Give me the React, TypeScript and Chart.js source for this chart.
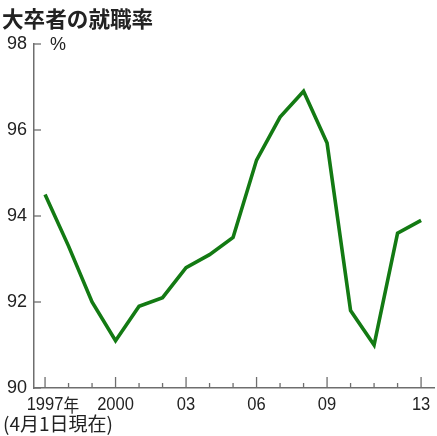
import { useEffect, useRef } from "react";
import { Chart, registerables } from "chart.js";

Chart.register(...registerables);

// 大卒者の就職率 (4月1日現在)
const years = [1997, 1998, 1999, 2000, 2001, 2002, 2003, 2004, 2005, 2006, 2007, 2008, 2009, 2010, 2011, 2012, 2013];
const rates = [94.5, 93.3, 92.0, 91.1, 91.9, 92.1, 92.8, 93.1, 93.5, 95.3, 96.3, 96.9, 95.7, 91.8, 91.0, 93.6, 93.9];

const labeledYears = [1997, 2000, 2003, 2006, 2009, 2013];
const labelTexts = ["1997", "2000", "03", "06", "09", "13"];
const yTicks = [90, 92, 94, 96, 98];

const lineColor = "#137a13";
const axisColor = "#6e6e6e";
const textColor = "#222";

const decorPlugin = {
  id: "decor",
  afterDraw(chart: Chart) {
    const ctx = chart.ctx;
    const xs = chart.scales.x;
    const ys = chart.scales.y;
    const area = chart.chartArea;
    ctx.save();
    ctx.strokeStyle = axisColor;
    ctx.lineWidth = 1.3;
    // x tick marks pointing up
    years.forEach((yr) => {
      const px = xs.getPixelForValue(yr);
      const len = labeledYears.includes(yr) ? 11 : 5;
      ctx.beginPath();
      ctx.moveTo(px, area.bottom);
      ctx.lineTo(px, area.bottom - len);
      ctx.stroke();
    });
    // y tick marks pointing right
    yTicks.forEach((v) => {
      const py = ys.getPixelForValue(v);
      ctx.beginPath();
      ctx.moveTo(area.left, py);
      ctx.lineTo(area.left + 7, py);
      ctx.stroke();
    });

    ctx.fillStyle = textColor;
    ctx.textBaseline = "middle";

    // x labels, slightly condensed
    const sx = 0.87;
    ctx.font = "19px 'Liberation Sans', Arial, sans-serif";
    labeledYears.forEach((yr, i) => {
      const px = xs.getPixelForValue(yr);
      const w = ctx.measureText(labelTexts[i]).width * sx;
      ctx.save();
      ctx.translate(px - w / 2, area.bottom + 17);
      ctx.scale(sx, 1);
      ctx.textAlign = "left";
      ctx.fillText(labelTexts[i], 0, 0);
      if (i === 0) {
        ctx.font = "18px 'Noto Sans CJK JP', sans-serif";
        ctx.fillText("年", w / sx, 0);
      }
      ctx.restore();
    });

    ctx.textAlign = "left";
    // unit
    ctx.font = "18px 'Liberation Sans', Arial, sans-serif";
    ctx.fillText("%", area.left + 16, ys.getPixelForValue(98) + 1);
    // title
    ctx.font = "bold 21.6px 'Noto Sans CJK JP', sans-serif";
    ctx.fillText("大卒者の就職率", 2, 19);
    // footnote
    ctx.font = "19px 'Noto Sans CJK JP', sans-serif";
    ctx.fillText("(4月1日現在)", 3, 424);
    ctx.restore();
  },
};

const App = () => {
  const canvasRef = useRef<HTMLCanvasElement>(null);
  const chartRef = useRef<Chart | null>(null);

  useEffect(() => {
    if (!canvasRef.current) return;
    if (chartRef.current) chartRef.current.destroy();

    chartRef.current = new Chart(canvasRef.current, {
      type: "line",
      data: {
        datasets: [
          {
            data: years.map((yr, i) => ({ x: yr, y: rates[i] })),
            borderColor: lineColor,
            borderWidth: 3.6,
            borderJoinStyle: "miter",
            pointRadius: 0,
            tension: 0,
          },
        ],
      },
      options: {
        responsive: false,
        animation: false,
        layout: { padding: { top: 44, right: 3, left: 0, bottom: 0 } },
        plugins: {
          legend: { display: false },
          tooltip: { enabled: false },
        },
        scales: {
          x: {
            type: "linear",
            min: 1996.53,
            max: 2013.55,
            grid: { display: false, drawTicks: false },
            border: { display: true, color: axisColor, width: 1.5 },
            afterBuildTicks: (scale: any) => {
              scale.ticks = years.map((v) => ({ value: v }));
            },
            afterFit: (scale: any) => {
              scale.height = 48;
            },
            ticks: { display: false },
          },
          y: {
            min: 90,
            max: 98,
            grid: { display: false, drawTicks: false },
            border: { display: true, color: axisColor, width: 1.5 },
            afterBuildTicks: (scale: any) => {
              scale.ticks = yTicks.map((v) => ({ value: v }));
            },
            afterFit: (scale: any) => {
              scale.width = 34;
            },
            ticks: {
              padding: 7,
              color: textColor,
              font: { family: "'Liberation Sans', Arial, sans-serif", size: 18 },
            },
          },
        },
      },
      plugins: [decorPlugin],
    });

    return () => {
      if (chartRef.current) {
        chartRef.current.destroy();
        chartRef.current = null;
      }
    };
  }, []);

  return (
    <div style={{ position: "fixed", top: 0, left: 0, width: 437, height: 436, background: "#fff" }}>
      <canvas ref={canvasRef} width={437} height={436} />
    </div>
  );
};

export default App;
